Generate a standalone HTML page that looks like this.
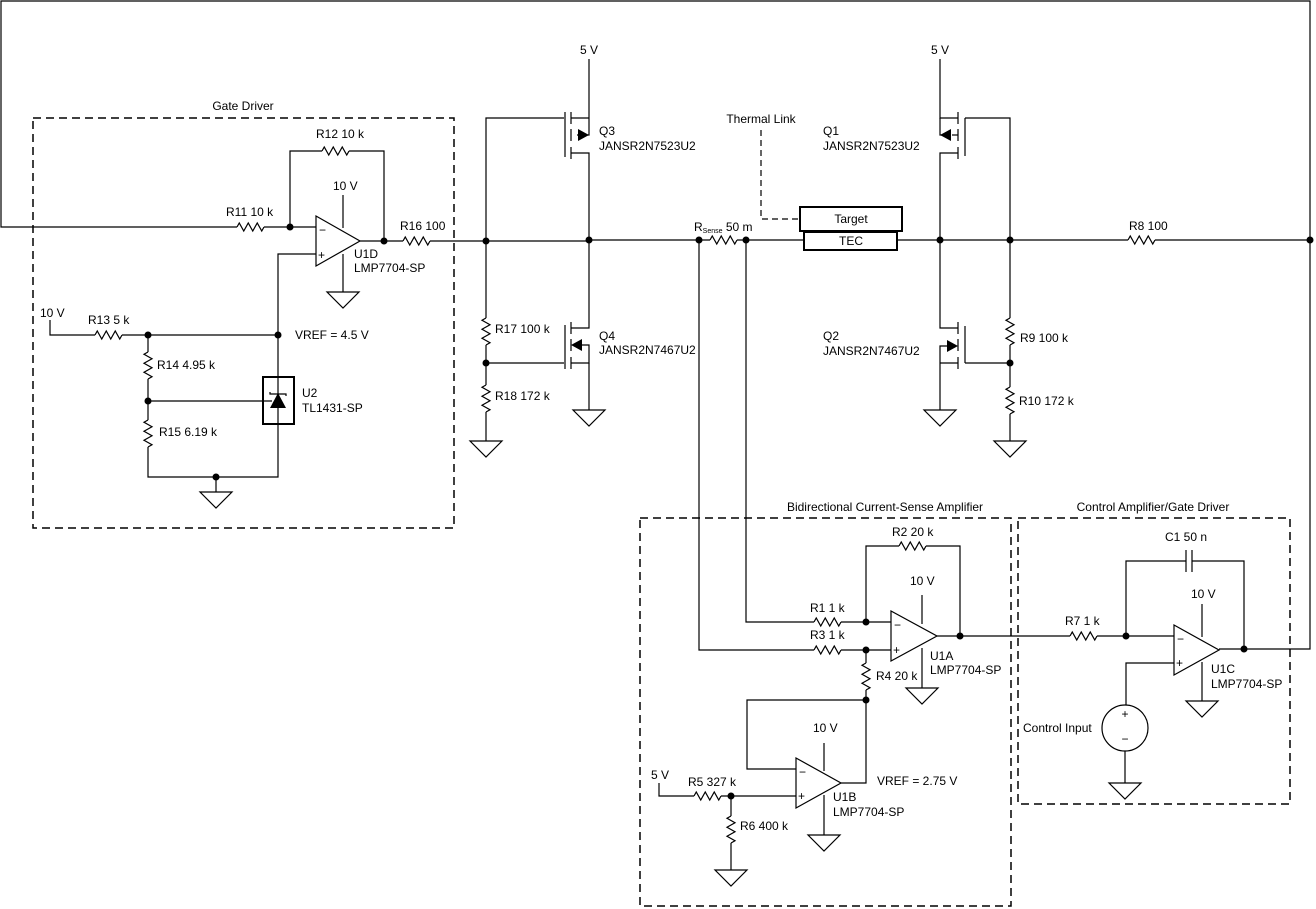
<!DOCTYPE html>
<html><head><meta charset="utf-8"><style>
html,body{margin:0;padding:0;background:#fff;}
svg{display:block;}
text{font-family:"Liberation Sans",Arial,sans-serif;font-size:12px;fill:#000;}
</style></head><body>
<svg width="1316" height="909" viewBox="0 0 1316 909" xmlns="http://www.w3.org/2000/svg">
<defs>
<path id="rh" d="M0,0 l2.25,-4 l4.5,8 l4.5,-8 l4.5,8 l4.5,-8 l4.5,8 l2.25,-4" fill="none"/>
<path id="rv" d="M0,0 l-4,2.25 l8,4.5 l-8,4.5 l8,4.5 l-8,4.5 l8,4.5 l-4,2.25" fill="none"/>
<path id="gnd" d="M-16,0 h32 l-16,16 z" fill="none"/>
</defs>
<g stroke="#000" stroke-width="1.2" fill="none">
<polyline points="237,227 1,227 1,1 1310,1 1310,649 1244,649"/>
<rect x="33" y="118" width="421" height="410" stroke-dasharray="8,5" stroke-width="1.5"/>
<use href="#rh" x="237" y="227"/>
<polyline points="264,227 316,227"/>
<polyline points="290,227 290,151 322,151"/>
<use href="#rh" x="322" y="151"/>
<polyline points="349,151 384,151 384,241"/>
<polygon points="316,216 316,266 360,241"/>
<line x1="343" y1="195" x2="343" y2="228"/>
<line x1="343" y1="254" x2="343" y2="292"/>
<use href="#gnd" x="343" y="292"/>
<polyline points="360,241 403,241"/>
<use href="#rh" x="403" y="241"/>
<polyline points="430,241 589,241"/>
<polyline points="316,254 278,254 278,477 148,477 148,447"/>
<polyline points="50,320 50,335 95,335"/>
<use href="#rh" x="95" y="335"/>
<polyline points="122,335 278,335"/>
<polyline points="148,335 148,352"/>
<use href="#rv" x="148" y="352"/>
<polyline points="148,379 148,420"/>
<use href="#rv" x="148" y="420"/>
<polyline points="148,401 272,401"/>
<line x1="216" y1="477" x2="216" y2="492"/>
<use href="#gnd" x="216" y="492"/>
<rect x="263" y="377" width="31" height="47" stroke-width="2"/>
<polyline points="270,392 270,394 286,394 286,396"/>
<polyline points="486,318 486,118 564,118"/>
<line x1="565" y1="112" x2="565" y2="157"/>
<line x1="571" y1="112" x2="571" y2="124"/>
<line x1="571" y1="129" x2="571" y2="141"/>
<line x1="571" y1="147" x2="571" y2="159"/>
<polyline points="571,118 589,118"/>
<polyline points="589,59 589,135 577,135"/>
<polyline points="571,153 589,153 589,328 571,328"/>
<line x1="565" y1="325" x2="565" y2="369"/>
<line x1="571" y1="322" x2="571" y2="334"/>
<line x1="571" y1="339" x2="571" y2="351"/>
<line x1="571" y1="357" x2="571" y2="369"/>
<polyline points="582,345 589,345 589,363 571,363"/>
<polyline points="589,363 589,410"/>
<use href="#gnd" x="589" y="410"/>
<polyline points="486,363 564,363"/>
<use href="#rv" x="486" y="318"/>
<polyline points="486,345 486,385"/>
<use href="#rv" x="486" y="385"/>
<polyline points="486,412 486,441"/>
<use href="#gnd" x="486" y="441"/>
<polyline points="589,240 710,240"/>
<use href="#rh" x="710" y="240"/>
<polyline points="737,240 804,240"/>
<rect x="804" y="232" width="93" height="18" stroke-width="2"/>
<rect x="800" y="207" width="102" height="24" stroke-width="2"/>
<polyline points="761,130 761,219 800,219" stroke-dasharray="6,4"/>
<polyline points="897,240 1128,240"/>
<use href="#rh" x="1128" y="240"/>
<polyline points="1155,240 1310,240"/>
<polyline points="940,59 940,118 958,118"/>
<line x1="965" y1="118" x2="965" y2="156"/>
<line x1="958" y1="112" x2="958" y2="124"/>
<line x1="958" y1="129" x2="958" y2="141"/>
<line x1="958" y1="147" x2="958" y2="159"/>
<polyline points="940,118 940,135 948,135"/>
<polyline points="952,135 958,135"/>
<polyline points="958,153 940,153 940,328 958,328"/>
<polyline points="965,118 1010,118 1010,318"/>
<line x1="958" y1="322" x2="958" y2="334"/>
<line x1="958" y1="339" x2="958" y2="351"/>
<line x1="958" y1="357" x2="958" y2="369"/>
<line x1="965" y1="326" x2="965" y2="363"/>
<polyline points="948,346 940,346 940,410"/>
<polyline points="958,363 940,363"/>
<use href="#gnd" x="940" y="410"/>
<polyline points="965,363 1010,363"/>
<use href="#rv" x="1010" y="318"/>
<polyline points="1010,345 1010,387"/>
<use href="#rv" x="1010" y="387"/>
<polyline points="1010,414 1010,441"/>
<use href="#gnd" x="1010" y="441"/>
<rect x="640" y="518" width="371" height="388" stroke-dasharray="8,5" stroke-width="1.5"/>
<rect x="1018" y="518" width="272" height="286" stroke-dasharray="8,5" stroke-width="1.5"/>
<polyline points="699,240 699,650 814,650"/>
<polyline points="746,240 746,622 814,622"/>
<use href="#rh" x="814" y="622"/>
<use href="#rh" x="814" y="650"/>
<polyline points="841,622 891,622"/>
<polyline points="841,650 891,650"/>
<polyline points="866,622 866,546 899,546"/>
<use href="#rh" x="899" y="546"/>
<polyline points="926,546 960,546 960,636"/>
<polygon points="891,611 891,661 937,636"/>
<line x1="922" y1="595" x2="922" y2="624"/>
<line x1="922" y1="648" x2="922" y2="688"/>
<use href="#gnd" x="922" y="688"/>
<polyline points="937,636 1070,636"/>
<polyline points="866,650 866,663"/>
<use href="#rv" x="866" y="663"/>
<polyline points="866,690 866,783 841,783"/>
<polyline points="866,700 747,700 747,769 796,769"/>
<polygon points="796,758 796,808 841,783"/>
<line x1="824" y1="743" x2="824" y2="771"/>
<line x1="824" y1="795" x2="824" y2="835"/>
<use href="#gnd" x="824" y="835"/>
<polyline points="659,783 659,796 694,796"/>
<use href="#rh" x="694" y="796"/>
<polyline points="721,796 796,796"/>
<polyline points="731,796 731,816"/>
<use href="#rv" x="731" y="816"/>
<polyline points="731,843 731,870"/>
<use href="#gnd" x="731" y="870"/>
<use href="#rh" x="1070" y="636"/>
<polyline points="1097,636 1174,636"/>
<polyline points="1126,636 1126,561 1186,561"/>
<line x1="1186" y1="550" x2="1186" y2="572"/>
<line x1="1192" y1="550" x2="1192" y2="572"/>
<polyline points="1192,561 1244,561 1244,649"/>
<polygon points="1174,625 1174,675 1219,650"/>
<line x1="1219" y1="649" x2="1244" y2="649"/>
<line x1="1202" y1="604" x2="1202" y2="637"/>
<line x1="1202" y1="662" x2="1202" y2="701"/>
<use href="#gnd" x="1202" y="701"/>
<polyline points="1174,663 1126,663 1126,705"/>
<circle cx="1125" cy="728" r="23"/>
<polyline points="1125,751 1125,783"/>
<use href="#gnd" x="1125" y="783"/>
</g>
<g fill="#000">
<polygon points="270,408 286,408 278,393"/>
<polygon points="589,135 578,129 578,141"/>
<polygon points="940,135 951,129 951,141"/>
<polygon points="571,345 582,339 582,351"/>
<polygon points="958,346 947,340 947,352"/>
<circle cx="290" cy="227" r="3.5"/><circle cx="384" cy="241" r="3.5"/>
<circle cx="148" cy="335" r="3.5"/><circle cx="278" cy="335" r="3.5"/>
<circle cx="148" cy="401" r="3.5"/><circle cx="216" cy="477" r="3.5"/>
<circle cx="486" cy="241" r="3.5"/><circle cx="589" cy="240" r="3.5"/>
<circle cx="486" cy="363" r="3.5"/><circle cx="699" cy="240" r="3.5"/>
<circle cx="746" cy="240" r="3.5"/><circle cx="940" cy="240" r="3.5"/>
<circle cx="1010" cy="240" r="3.5"/><circle cx="1310" cy="240" r="3.5"/>
<circle cx="1010" cy="363" r="3.5"/>
<circle cx="866" cy="622" r="3.5"/><circle cx="866" cy="650" r="3.5"/>
<circle cx="960" cy="636" r="3.5"/><circle cx="866" cy="700" r="3.5"/>
<circle cx="731" cy="796" r="3.5"/><circle cx="1126" cy="636" r="3.5"/>
<circle cx="1244" cy="649" r="3.5"/>
</g>
<g>
<text x="243" y="110" text-anchor="middle">Gate Driver</text>
<text x="316" y="138">R12 10 k</text>
<text x="333" y="190">10 V</text>
<text x="226" y="216">R11 10 k</text>
<text x="400" y="230">R16 100</text>
<text x="319" y="234" font-size="10">−</text>
<text x="318" y="259" font-size="10">+</text>
<text x="354" y="258">U1D</text>
<text x="354" y="272">LMP7704-SP</text>
<text x="40" y="317">10 V</text>
<text x="88" y="324">R13 5 k</text>
<text x="295" y="339">VREF = 4.5 V</text>
<text x="157" y="369">R14 4.95 k</text>
<text x="302" y="397">U2</text>
<text x="302" y="412">TL1431-SP</text>
<text x="159" y="436">R15 6.19 k</text>
<text x="580" y="54">5 V</text>
<text x="599" y="135">Q3</text>
<text x="599" y="150">JANSR2N7523U2</text>
<text x="495" y="333">R17 100 k</text>
<text x="599" y="340">Q4</text>
<text x="599" y="354">JANSR2N7467U2</text>
<text x="495" y="400">R18 172 k</text>
<text x="761" y="123" text-anchor="middle">Thermal Link</text>
<text x="694" y="231">R<tspan font-size="7" dy="2">Sense</tspan><tspan dy="-2"> 50 m</tspan></text>
<text x="851" y="223" text-anchor="middle">Target</text>
<text x="851" y="245" text-anchor="middle">TEC</text>
<text x="931" y="54">5 V</text>
<text x="823" y="135">Q1</text>
<text x="823" y="150">JANSR2N7523U2</text>
<text x="823" y="340">Q2</text>
<text x="823" y="355">JANSR2N7467U2</text>
<text x="1129" y="230">R8 100</text>
<text x="1020" y="342">R9 100 k</text>
<text x="1019" y="405">R10 172 k</text>
<text x="885" y="511" text-anchor="middle">Bidirectional Current-Sense Amplifier</text>
<text x="1153" y="511" text-anchor="middle">Control Amplifier/Gate Driver</text>
<text x="892" y="536">R2 20 k</text>
<text x="910" y="585">10 V</text>
<text x="810" y="612">R1 1 k</text>
<text x="810" y="639">R3 1 k</text>
<text x="894" y="629" font-size="10">−</text>
<text x="893" y="654" font-size="10">+</text>
<text x="930" y="660">U1A</text>
<text x="930" y="674">LMP7704-SP</text>
<text x="876" y="680">R4 20 k</text>
<text x="813" y="732">10 V</text>
<text x="651" y="779">5 V</text>
<text x="688" y="786">R5 327 k</text>
<text x="877" y="785">VREF = 2.75 V</text>
<text x="799" y="776" font-size="10">−</text>
<text x="798" y="800" font-size="10">+</text>
<text x="833" y="801">U1B</text>
<text x="833" y="816">LMP7704-SP</text>
<text x="740" y="830">R6 400 k</text>
<text x="1165" y="541">C1 50 n</text>
<text x="1191" y="598">10 V</text>
<text x="1065" y="625">R7 1 k</text>
<text x="1177" y="643" font-size="10">−</text>
<text x="1176" y="667" font-size="10">+</text>
<text x="1211" y="673">U1C</text>
<text x="1211" y="688">LMP7704-SP</text>
<text x="1023" y="732">Control Input</text>
<text x="1125" y="718" text-anchor="middle" font-size="10">+</text>
<text x="1125" y="743" text-anchor="middle" font-size="10">−</text>
</g>
</svg>
</body></html>
